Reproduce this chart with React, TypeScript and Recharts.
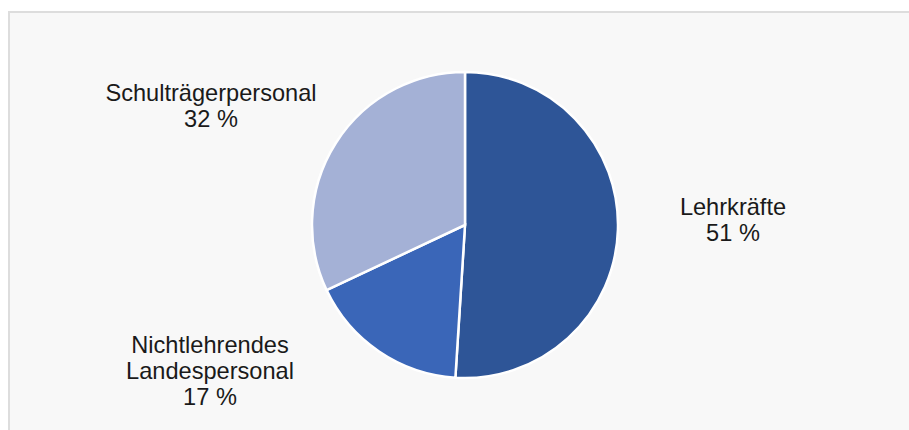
import { PieChart, Pie, Cell } from 'recharts';

const categories = ['Lehrkräfte', 'Nichtlehrendes Landespersonal', 'Schulträgerpersonal'];
const shares = [51, 17, 32];
const labelLines = [['Lehrkräfte'], ['Nichtlehrendes', 'Landespersonal'], ['Schulträgerpersonal']];

const colors = ['#2e5597', '#3a66b8', '#a4b1d6'];

// label anchor offsets from the pie centre (first baseline)
const labelOffsets = [
  { dx: 268, dy: -10 },
  { dx: -255, dy: 128 },
  { dx: -254, dy: -124 },
];

const chartData = categories.map((name, i) => ({ name, value: shares[i] }));

function renderLabel(props: any) {
  const { cx, cy, index, value } = props;
  const off = labelOffsets[index];
  const lines = [...labelLines[index], `${value} %`];
  return (
    <text
      x={cx + off.dx}
      y={cy + off.dy}
      textAnchor="middle"
      fill="#1a1a1a"
      fontSize={23.6}
      fontFamily="'Liberation Sans', Arial, sans-serif"
    >
      {lines.map((l, i) => (
        <tspan key={i} x={cx + off.dx} dy={i === 0 ? 0 : 26}>
          {l}
        </tspan>
      ))}
    </text>
  );
}

export default function App() {
  return (
    <div style={{ position: 'fixed', left: 0, top: 0, width: 909, height: 430, overflow: 'hidden', background: '#fff' }}>
      <div
        style={{
          position: 'absolute',
          left: 8,
          top: 11,
          width: 940,
          height: 460,
          border: '2px solid #dddddd',
          background: '#f8f8f8',
        }}
      />
      <div style={{ position: 'absolute', left: 0, top: 0 }}>
        <PieChart width={909} height={430} margin={{ top: 0, right: 0, bottom: 0, left: 0 }}>
          <Pie
            data={chartData}
            dataKey="value"
            nameKey="name"
            cx={465}
            cy={225}
            outerRadius={153}
            startAngle={90}
            endAngle={-270}
            stroke="#ffffff"
            strokeWidth={2.5}
            label={renderLabel}
            labelLine={false}
            isAnimationActive={false}
          >
            {chartData.map((d, i) => (
              <Cell key={d.name} fill={colors[i]} />
            ))}
          </Pie>
        </PieChart>
      </div>
    </div>
  );
}
